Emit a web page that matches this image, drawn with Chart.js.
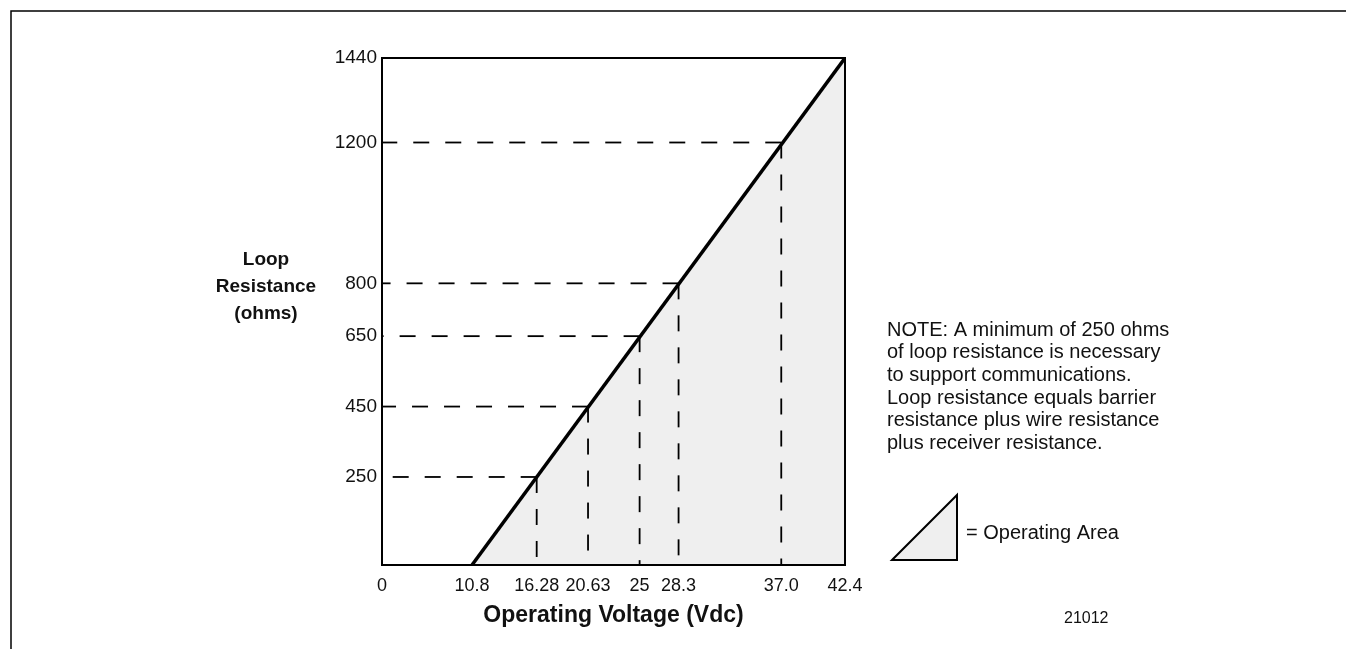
<!DOCTYPE html>
<html>
<head>
<meta charset="utf-8">
<title>Loop Resistance vs Operating Voltage</title>
<script src="https://cdn.jsdelivr.net/npm/chart.js@4.4.1/dist/chart.umd.min.js"></script>
<style>
    html, body { margin: 0; padding: 0; background: #fff; }
    #wrap { position: relative; width: 1346px; height: 649px; }
</style>
</head>
<body>
<div id="wrap"><canvas id="loopChart"></canvas></div>
<script>
// --- Data ---
const voltageTicks = [0, 10.8, 16.28, 20.63, 25, 28.3, 37.0, 42.4];
const voltageTickLabels = ['0', '10.8', '16.28', '20.63', '25', '28.3', '37.0', '42.4'];
const resistanceTicks = [250, 450, 650, 800, 1200, 1440];

// operating limit line: resistance reaches 0 at 10.8 V
const limitVoltage = [10.8, 42.4];
const limitResistance = [0, 1440];

// marked points on the limit line (dashed guides)
const markVoltage = [16.28, 20.63, 25, 28.3, 37.0];
const markResistance = [250, 450, 650, 800, 1200];

const yTitleLines = ['Loop', 'Resistance', '(ohms)'];
const xTitle = 'Operating Voltage (Vdc)';
const noteLines = [
    'NOTE: A minimum of 250 ohms',
    'of loop resistance is necessary',
    'to support communications.',
    'Loop resistance equals barrier',
    'resistance plus wire resistance',
    'plus receiver resistance.'
];
const legendLabel = '= Operating Area';
const figureId = '21012';

const FONT = '"Liberation Sans", Arial, Helvetica, sans-serif';
const INK = '#111';

// --- Voltage axis: the drawing squeezes the 0..10.8 stretch ---
const xBreak = limitVoltage[0];
const xSqueeze = 0.706;

class BrokenLinearScale extends Chart.LinearScale {
    toAxis(v) {
        return v < xBreak ? v * xSqueeze : xBreak * xSqueeze + (v - xBreak);
    }
    fromAxis(t) {
        const b = xBreak * xSqueeze;
        return t < b ? t / xSqueeze : xBreak + (t - b);
    }
    getPixelForValue(value) {
        if (value === null || value === undefined) return NaN;
        const lo = this.toAxis(this.min);
        const hi = this.toAxis(this.max);
        return this.getPixelForDecimal((this.toAxis(value) - lo) / (hi - lo));
    }
    getValueForPixel(pixel) {
        const lo = this.toAxis(this.min);
        const hi = this.toAxis(this.max);
        return this.fromAxis(lo + this.getDecimalForPixel(pixel) * (hi - lo));
    }
}
BrokenLinearScale.id = 'brokenLinear';
BrokenLinearScale.defaults = Chart.LinearScale.defaults;
Chart.register(BrokenLinearScale);

// --- Datasets ---
const datasets = [{
    data: limitVoltage.map((x, i) => ({ x, y: limitResistance[i] })),
    borderColor: '#000',
    borderWidth: 3.5,
    backgroundColor: '#efefef',
    fill: 'start',
    pointRadius: 0,
    order: 0
}];

const dashStyle = {
    borderColor: '#000',
    borderWidth: 1.8,
    borderDash: [16, 16],
    pointRadius: 0,
    fill: false,
    order: 1
};

markVoltage.forEach((v, i) => {
    const r = markResistance[i];
    // from the point out to the resistance axis, and down to the voltage axis
    datasets.push({ ...dashStyle, data: [{ x: v, y: r }, { x: 0, y: r }] });
    datasets.push({ ...dashStyle, data: [{ x: v, y: r }, { x: v, y: 0 }] });
});

// --- Frame, side title, note and legend ---
const paperPlugin = {
    id: 'paper',
    afterDraw(chart) {
        const { ctx, chartArea: a } = chart;
        ctx.save();

        ctx.strokeStyle = '#000';
        ctx.lineWidth = 2;
        ctx.strokeRect(a.left, a.top, a.right - a.left, a.bottom - a.top);

        // page frame
        ctx.lineWidth = 1.5;
        ctx.beginPath();
        ctx.moveTo(11, chart.height);
        ctx.lineTo(11, 11);
        ctx.lineTo(chart.width, 11);
        ctx.stroke();

        ctx.fillStyle = INK;
        ctx.textBaseline = 'middle';

        // resistance axis title
        ctx.font = `bold 19px ${FONT}`;
        ctx.textAlign = 'center';
        yTitleLines.forEach((line, i) => ctx.fillText(line, 266, 260 + i * 27));

        // note
        ctx.font = `20px ${FONT}`;
        ctx.textAlign = 'left';
        noteLines.forEach((line, i) => ctx.fillText(line, 887, 330 + i * 22.7));

        // legend swatch
        ctx.beginPath();
        ctx.moveTo(892, 560);
        ctx.lineTo(957, 495);
        ctx.lineTo(957, 560);
        ctx.closePath();
        ctx.fillStyle = '#efefef';
        ctx.fill();
        ctx.lineWidth = 2;
        ctx.stroke();

        ctx.fillStyle = INK;
        ctx.fillText(legendLabel, 966, 533);

        ctx.font = `16px ${FONT}`;
        ctx.fillText(figureId, 1064, 619);

        ctx.restore();
    }
};

// --- Chart ---
new Chart(document.getElementById('loopChart'), {
    type: 'line',
    data: { datasets },
    options: {
        responsive: true,
        maintainAspectRatio: false,
        animation: false,
        events: [],
        layout: { padding: { left: 0, right: 501, top: 58, bottom: 0 } },
        plugins: {
            legend: { display: false },
            tooltip: { enabled: false },
            filler: { drawTime: 'beforeDatasetsDraw' }
        },
        scales: {
            x: {
                type: 'brokenLinear',
                min: 0,
                max: 42.4,
                grid: { display: false, drawTicks: false },
                border: { display: false },
                afterBuildTicks: scale => { scale.ticks = voltageTicks.map(v => ({ value: v })); },
                afterFit: scale => { scale.height = 84; },
                ticks: {
                    autoSkip: false,
                    maxRotation: 0,
                    padding: 10,
                    color: INK,
                    font: { family: FONT, size: 18 },
                    callback: (val, i) => voltageTickLabels[i]
                },
                title: {
                    display: true,
                    text: xTitle,
                    color: INK,
                    font: { family: FONT, size: 23, weight: 'bold' },
                    padding: { top: 0, bottom: 20 }
                }
            },
            y: {
                type: 'linear',
                min: 0,
                max: 1440,
                grid: { display: false, drawTicks: false },
                border: { display: false },
                afterBuildTicks: scale => { scale.ticks = resistanceTicks.map(v => ({ value: v })); },
                afterFit: scale => { scale.width = 382; },
                ticks: {
                    autoSkip: false,
                    padding: 5,
                    color: INK,
                    font: { family: FONT, size: 19 },
                    callback: val => String(val)
                }
            }
        }
    },
    plugins: [paperPlugin]
});
</script>
</body>
</html>
